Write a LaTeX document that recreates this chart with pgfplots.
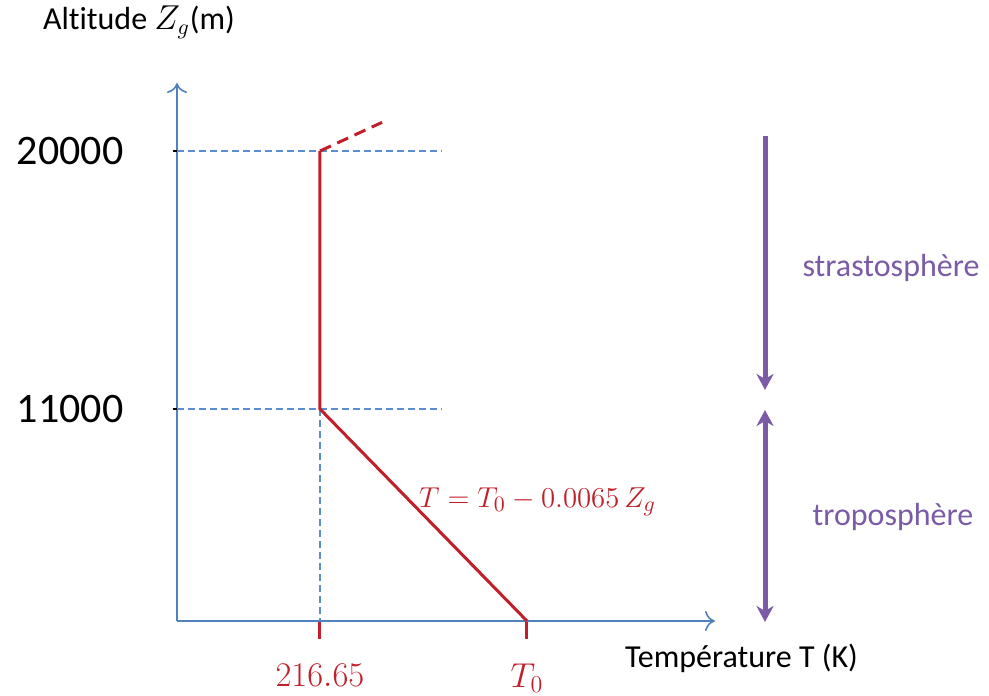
\documentclass[border=0pt]{standalone}
\usepackage{pgfplots}
\pgfplotsset{compat=1.18}
\usepackage{fontspec}
\setmainfont{Carlito}[Ligatures=CommonOff]
\usetikzlibrary{arrows.meta}
\definecolor{axblue}{RGB}{79,129,189}
\definecolor{dashblue}{RGB}{91,142,208}
\definecolor{redline}{RGB}{192,32,42}
\definecolor{purp}{RGB}{123,90,166}
\begin{document}
\begin{tikzpicture}[x=0.5pt,y=0.5pt]
\path[use as bounding box] (0,0) rectangle (989,695);
% altitude in km on a schematic (piecewise) scale
\begin{axis}[
  at={(88.5pt,37pt)}, anchor=south west,
  scale only axis, width=269pt, height=269pt,
  xmin=167.26, xmax=353.09, ymin=0, ymax=22.372,
  y coord trafo/.code={\pgfmathparse{(#1<=11)*(#1*212/11)+(#1>11)*(212+(#1-11)*258/9)}},
  axis lines=left,
  axis line style={axblue, line width=0.8pt, -{To[length=5pt,width=10pt]}},
  clip=false,
  tick align=outside, major tick length=9pt,
  xtick={216.65,288.15}, xticklabels={$216.65$,$T_0$},
  x tick style={redline, line width=1.5pt},
  xticklabel style={redline, font=\fontsize{18}{21}\selectfont, yshift=-9pt},
  ytick=\empty,
  extra y ticks={11,20}, extra y tick labels={11000,20000},
  extra y tick style={major tick length=4.5pt, tick align=center,
    tick style={black, line width=1.3pt},
    yticklabel style={font=\fontsize{21}{25}\selectfont, xshift=-21pt}},
]
\addplot[dashblue, line width=0.75pt, dash pattern=on 3.5pt off 2pt] coordinates {(167.26,20) (258.8,20)};
\addplot[dashblue, line width=0.75pt, dash pattern=on 3.5pt off 2pt] coordinates {(167.26,11) (258.8,11)};
\addplot[dashblue, line width=0.75pt, dash pattern=on 3.5pt off 2pt] coordinates {(216.65,11) (216.65,0)};
\addplot[redline, line width=1.5pt] coordinates {(216.65,20) (216.65,11) (288.15,0)};
\addplot[redline, line width=1.5pt, dash pattern=on 6pt off 3.5pt] coordinates {(216.65,20) (238.1,21)};
\end{axis}
\node[anchor=west, font=\fontsize{16}{19}\selectfont] at (36,673) {Altitude $Z_g$(m)};
\node[anchor=west, font=\fontsize{16}{19}\selectfont] at (618,37) {Température T (K)};
\node[purp, font=\fontsize{16}{19}\selectfont] at (891,427) {strastosphère};
\node[purp, font=\fontsize{16}{19}\selectfont] at (893,178) {troposphère};
\node[redline, anchor=west, font=\fontsize{15.5}{19}\selectfont] at (412,193) {$T = T_0 - 0.0065\,Z_g$};
\draw[purp, line width=2.5pt, -{Stealth[length=8pt,width=8.5pt,inset=2.5pt]}] (765,559) -- (765,305);
\draw[purp, line width=2.5pt, {Stealth[length=8pt,width=8.5pt,inset=2.5pt]}-{Stealth[length=8pt,width=8.5pt,inset=2.5pt]}] (765,285) -- (765,73);
\end{tikzpicture}
\end{document}
